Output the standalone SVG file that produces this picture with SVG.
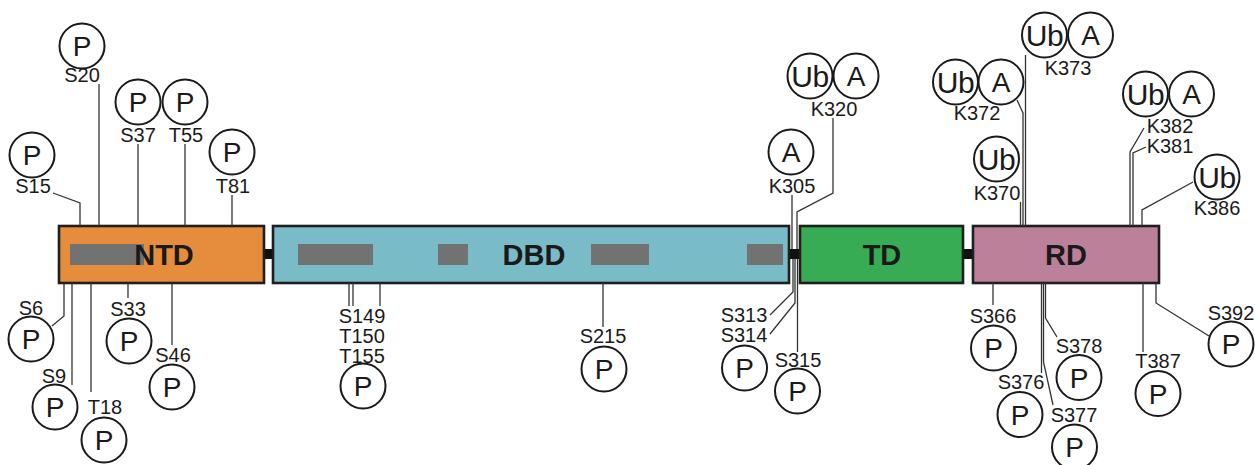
<svg xmlns="http://www.w3.org/2000/svg" width="1255" height="465" viewBox="0 0 1255 465">
<style>
.dom{stroke:#1f1f1f;stroke-width:2.6}
.bar{fill:#727272}
.lnk{fill:#111}
.dl{font-family:"Liberation Sans",Arial,sans-serif;font-weight:bold;font-size:29px;fill:#1a1a1a;text-anchor:middle}
.c{fill:#fff;stroke:#1a1a1a;stroke-width:2}
.m{font-family:"Liberation Sans",Arial,sans-serif;font-size:28px;fill:#1a1a1a;text-anchor:middle}
.ub{font-family:"Liberation Sans",Arial,sans-serif;font-size:30px;fill:#1a1a1a;text-anchor:middle;letter-spacing:-0.5px}
.lb{font-family:"Liberation Sans",Arial,sans-serif;font-size:20px;fill:#1a1a1a;text-anchor:middle}
.cn polyline{fill:none;stroke:#333;stroke-width:1.3}
</style>
<rect width="1255" height="465" fill="#fff"/>
<g id="linkers">
<rect class="lnk" x="263" y="249" width="11" height="10"/>
<rect class="lnk" x="788" y="249" width="13" height="10"/>
<rect class="lnk" x="962" y="249" width="12" height="10"/>
</g>
<g id="NTD">
<rect class="dom" x="59" y="226" width="205" height="57" fill="#E58D3C"/>
<rect class="bar" x="70" y="244" width="74" height="21"/>
<text class="dl" x="164" y="265">NTD</text>
</g>
<g id="DBD">
<rect class="dom" x="273" y="226" width="516" height="57" fill="#79BCC8"/>
<rect class="bar" x="298" y="244" width="75" height="21"/>
<rect class="bar" x="438" y="244" width="30" height="21"/>
<rect class="bar" x="591" y="244" width="58" height="21"/>
<rect class="bar" x="747" y="244" width="36" height="21"/>
<text class="dl" x="534" y="265">DBD</text>
</g>
<g id="TD">
<rect class="dom" x="800" y="226" width="163" height="57" fill="#38AB55"/>
<text class="dl" x="882" y="265">TD</text>
</g>
<g id="RD">
<rect class="dom" x="973" y="226" width="186" height="57" fill="#BD809A"/>
<text class="dl" x="1066" y="265">RD</text>
</g>
<g id="connectors" class="cn">
<polyline points="53,193 80,203 80,226"/>
<polyline points="99,84 99,226"/>
<polyline points="138,144 138,226"/>
<polyline points="185,144 185,226"/>
<polyline points="232,195 232,226"/>
<polyline points="64,283 64,316 52,326"/>
<polyline points="72,283 72,385"/>
<polyline points="91,283 91,392"/>
<polyline points="128,283 128,298"/>
<polyline points="172,283 172,345"/>
<polyline points="349,283 349,306"/>
<polyline points="353,283 353,306"/>
<polyline points="380,283 380,306"/>
<polyline points="603,283 603,327"/>
<polyline points="792,195 792,249"/>
<polyline points="833,118 833,193 797,212 797,249"/>
<polyline points="793,259 793,292 770,315"/>
<polyline points="795,259 795,303 770,334"/>
<polyline points="797.5,259 797.5,352"/>
<polyline points="1017,100 1023,113 1023,226"/>
<polyline points="1025.5,55 1025.5,226"/>
<polyline points="1020.5,202 1020.5,226"/>
<polyline points="1144,128 1130,152 1130,226"/>
<polyline points="1146,147 1133,153 1133,226"/>
<polyline points="1193,182 1142,210 1142,226"/>
<polyline points="993,283 993,305"/>
<polyline points="1041.5,283 1041.5,373"/>
<polyline points="1043.5,283 1043.5,362 1053,405"/>
<polyline points="1045.5,283 1045.5,318 1057,337"/>
<polyline points="1143,283 1143,352"/>
<polyline points="1156,283 1156,303 1209,336"/>
</g>
<g id="S15"><circle class="c" cx="32" cy="155" r="22.5"/><text class="m" x="32" y="165">P</text><text class="lb" x="33" y="193">S15</text></g>
<g id="S20"><circle class="c" cx="82" cy="46" r="22.5"/><text class="m" x="82" y="56">P</text><text class="lb" x="82" y="82">S20</text></g>
<g id="S37"><circle class="c" cx="138" cy="102" r="22.5"/><text class="m" x="138" y="112">P</text><text class="lb" x="138" y="142">S37</text></g>
<g id="T55"><circle class="c" cx="185" cy="102" r="22.5"/><text class="m" x="185" y="112">P</text><text class="lb" x="186" y="142">T55</text></g>
<g id="T81"><circle class="c" cx="232" cy="152" r="22.5"/><text class="m" x="232" y="162">P</text><text class="lb" x="233" y="193">T81</text></g>
<g id="S6"><circle class="c" cx="31" cy="339" r="22.5"/><text class="m" x="31" y="349">P</text><text class="lb" x="31" y="315">S6</text></g>
<g id="S9"><circle class="c" cx="55" cy="407" r="22.5"/><text class="m" x="55" y="417">P</text><text class="lb" x="54" y="383">S9</text></g>
<g id="T18"><circle class="c" cx="104" cy="440" r="22.5"/><text class="m" x="104" y="450">P</text><text class="lb" x="105" y="414">T18</text></g>
<g id="S33"><circle class="c" cx="129" cy="341" r="22.5"/><text class="m" x="129" y="351">P</text><text class="lb" x="128" y="316">S33</text></g>
<g id="S46"><circle class="c" cx="172" cy="387" r="22.5"/><text class="m" x="172" y="397">P</text><text class="lb" x="173" y="362">S46</text></g>
<g id="S149-T150-T155"><circle class="c" cx="363" cy="386" r="22.5"/><text class="m" x="363" y="396">P</text><text class="lb" x="362" y="323">S149</text><text class="lb" x="362" y="343">T150</text><text class="lb" x="362" y="363">T155</text></g>
<g id="S215"><circle class="c" cx="604" cy="369" r="22.5"/><text class="m" x="604" y="379">P</text><text class="lb" x="603" y="343">S215</text></g>
<g id="K305"><circle class="c" cx="791" cy="152" r="22.5"/><text class="m" x="791" y="162">A</text><text class="lb" x="792" y="193">K305</text></g>
<g id="K320"><circle class="c" cx="810" cy="76" r="22.5"/><text class="ub" x="810" y="87">Ub</text><circle class="c" cx="856" cy="76" r="22.5"/><text class="m" x="856" y="86">A</text><text class="lb" x="834" y="116">K320</text></g>
<g id="S313-S314"><circle class="c" cx="744.5" cy="368" r="22.5"/><text class="m" x="744.5" y="378">P</text><text class="lb" x="744" y="322">S313</text><text class="lb" x="744" y="342">S314</text></g>
<g id="S315"><circle class="c" cx="797.5" cy="391" r="22.5"/><text class="m" x="797.5" y="401">P</text><text class="lb" x="798" y="367">S315</text></g>
<g id="K372"><circle class="c" cx="955.5" cy="82" r="22.5"/><text class="ub" x="955.5" y="93">Ub</text><circle class="c" cx="1001" cy="82" r="22.5"/><text class="m" x="1001" y="92">A</text><text class="lb" x="977" y="120">K372</text></g>
<g id="K373"><circle class="c" cx="1044.5" cy="35" r="22.5"/><text class="ub" x="1044.5" y="46">Ub</text><circle class="c" cx="1090.5" cy="35" r="22.5"/><text class="m" x="1090.5" y="45">A</text><text class="lb" x="1068" y="75">K373</text></g>
<g id="K370"><circle class="c" cx="996.5" cy="159" r="22.5"/><text class="ub" x="996.5" y="170">Ub</text><text class="lb" x="997" y="200">K370</text></g>
<g id="K382-K381"><circle class="c" cx="1145.5" cy="94" r="22.5"/><text class="ub" x="1145.5" y="105">Ub</text><circle class="c" cx="1191.5" cy="94" r="22.5"/><text class="m" x="1191.5" y="104">A</text><text class="lb" x="1170" y="133">K382</text><text class="lb" x="1170" y="153">K381</text></g>
<g id="K386"><circle class="c" cx="1217" cy="177" r="22.5"/><text class="ub" x="1217" y="188">Ub</text><text class="lb" x="1217" y="215">K386</text></g>
<g id="S366"><circle class="c" cx="993.5" cy="348" r="22.5"/><text class="m" x="993.5" y="358">P</text><text class="lb" x="993" y="323">S366</text></g>
<g id="S376"><circle class="c" cx="1020" cy="414.5" r="22.5"/><text class="m" x="1020" y="424.5">P</text><text class="lb" x="1021" y="389">S376</text></g>
<g id="S377"><circle class="c" cx="1074.5" cy="447" r="22.5"/><text class="m" x="1074.5" y="457">P</text><text class="lb" x="1074" y="422">S377</text></g>
<g id="S378"><circle class="c" cx="1079" cy="377.5" r="22.5"/><text class="m" x="1079" y="387.5">P</text><text class="lb" x="1079" y="353">S378</text></g>
<g id="T387"><circle class="c" cx="1158" cy="393.5" r="22.5"/><text class="m" x="1158" y="403.5">P</text><text class="lb" x="1158" y="368">T387</text></g>
<g id="S392"><circle class="c" cx="1231" cy="344" r="22.5"/><text class="m" x="1231" y="354">P</text><text class="lb" x="1231" y="320">S392</text></g>
</svg>
